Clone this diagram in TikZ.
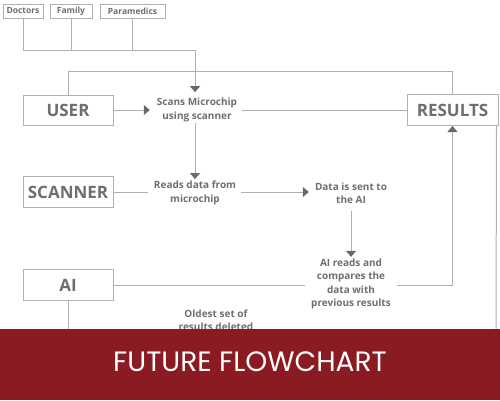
\documentclass[tikz,border=0pt]{standalone}
\usepackage{fontspec}
\setmainfont{Open Sans}
\newfontfamily\titlefont{Poppins}
\usetikzlibrary{arrows.meta,positioning,calc}
\definecolor{wire}{HTML}{B0B0B0}
\definecolor{inkgray}{HTML}{6E6E6E}
\definecolor{tipgray}{HTML}{6A6A6A}
\definecolor{banner}{HTML}{8A1B22}
\tikzset{
  actorbox/.style={draw=wire, line width=1pt, fill=white, inner sep=0pt,
    minimum width=90pt, minimum height=31pt, text=inkgray,
    font=\fontsize{17}{19}\selectfont\bfseries},
  tagbox/.style={draw=wire, line width=1pt, inner sep=0pt,
    minimum height=14pt, text=inkgray, font=\fontsize{8.5}{10}\selectfont\bfseries},
  steptext/.style={align=center, text=inkgray, inner sep=1pt,
    font=\fontsize{10}{13.3}\selectfont\bfseries},
  wireline/.style={draw=wire, line width=1pt},
  arr/.style={wireline, -{Triangle[length=6pt, width=10pt, color=tipgray]}}
}
\begin{document}
\begin{tikzpicture}[x=1pt, y=-1pt]
    \useasboundingbox (0,0) rectangle (500,400);
    % who can read the results
    \node[tagbox, minimum width=40pt] (doctors) at (23,11) {Doctors};
    \node[tagbox, minimum width=42pt] (family) at (71,11) {Family};
    \node[tagbox, minimum width=65pt] (paramedics) at (132.5,11) {Paramedics};
    \coordinate (join) at (195,50);
    % main boxes
    \node[actorbox, minimum height=30pt] (user) at (68,110) {USER};
    \node[actorbox] (scanner) at (68,192) {SCANNER};
    \node[actorbox] (ai) at (68,285) {AI};
    \node[actorbox, minimum width=91pt] (results) at (452.5,110) {RESULTS};
    % steps
    \node[steptext] (scans) at (197,110) {Scans Microchip\\using scanner};
    \node[steptext] (reads) at (195,193) {Reads data from\\microchip};
    \node[steptext] (sent) at (351,193) {Data is sent to\\the AI};
    \node[steptext] (compare) at (351,284) {AI reads and\\compares the\\data with\\previous results};
    \node[steptext] (oldest) at (216,320) {Oldest set of\\results deleted};
    \coordinate (aiend) at (68,335);
    \coordinate (delend) at (496,335);

    \draw[wireline] (doctors.south) |- (join);
    \draw[wireline] (family.south) -- (family.south |- join);
    \draw[wireline] (paramedics.south) -- (paramedics.south |- join);
    \draw[arr, shorten >=5pt] (join) -- (join |- scans.north);
    \draw[wireline] (user.north) -- ++(0,-23) -| (results.north);
    \draw[arr, shorten >=6pt] (user.east) -- (scans.west);
    \draw[wireline, shorten <=4pt] (scans.east) -- (results.west);
    \draw[arr, shorten >=1pt] (join |- scans.south) -- (join |- reads.north);
    \draw[wireline] (scanner.east) -- ([xshift=-5pt]scanner.east -| reads.west);
    \draw[arr, shorten <=4pt, shorten >=5pt] (reads.east |- scanner.east) -- (sent.west |- scanner.east);
    \draw[arr, shorten <=6pt, shorten >=1pt] (sent.south) -- (compare.north);
    \draw[wireline] (ai.east) -- ([xshift=-5pt]ai.east -| compare.west);
    \draw[arr, shorten <=5pt] (compare.east |- ai.east) -| (results.south);
    \draw[wireline] (ai.south) -- (aiend);
    \draw[wireline] ([xshift=-2pt]results.south east) -- (delend);

    % title band
    \fill[banner] (0,329) rectangle (500,400);
    \node[text=white, font=\titlefont\fontsize{28}{30}\selectfont] (title) at (250,362) {FUTURE FLOWCHART};
\end{tikzpicture}
\end{document}
